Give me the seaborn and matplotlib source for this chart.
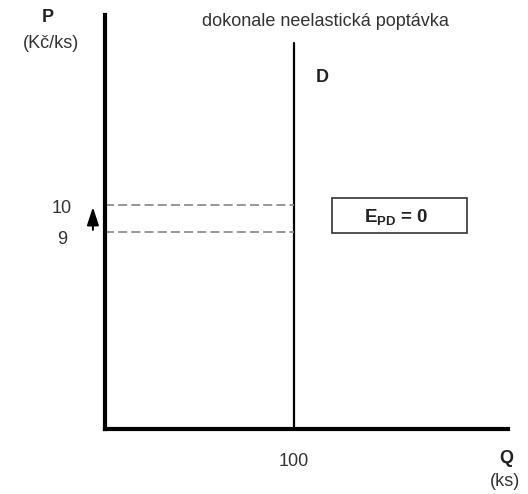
import matplotlib
matplotlib.use("Agg")
import matplotlib.pyplot as plt
import seaborn as sns
import pandas as pd
from matplotlib.patches import Rectangle
from matplotlib.transforms import ScaledTranslation

# ---- data ----
demand_quantity = 100          # perfectly inelastic demand at Q = 100
prices = [9, 10]               # price rises from 9 to 10
price_labels = ["9", "10"]
quantity_ticks = [100]
quantity_labels = ["100"]
demand_top_price = 16
title = "dokonale neelastická poptávka"
elasticity_label = r"$\mathbf{E_{PD}}$ = 0"

sns.set_theme(style="white")
plt.rcParams["font.family"] = ["Liberation Sans", "DejaVu Sans"]
plt.rcParams["mathtext.fontset"] = "custom"
plt.rcParams["mathtext.rm"] = "Liberation Sans"
plt.rcParams["mathtext.bf"] = "Liberation Sans:bold"

FS = 13
W, H = 528, 494
fig = plt.figure(figsize=(W / 100, H / 100), dpi=100)
ax = fig.add_axes([105 / W, 1 - 429 / H, 403 / W, (429 - 15) / H])

xlim = (0, 213.2)
ylim = (1.70, 17.04)
ax.set_xlim(*xlim)
ax.set_ylim(*ylim)

# demand curve (vertical)
demand_df = pd.DataFrame({"Q": [demand_quantity, demand_quantity],
                          "P": [ylim[0], demand_top_price]})
sns.lineplot(data=demand_df, x="Q", y="P", color="black", linewidth=1.6,
             ax=ax, sort=False, estimator=None)

# dashed price lines
ax.hlines(prices, xlim[0], demand_quantity, colors="#8f8f8f",
          linestyles=(0, (5, 2.3)), linewidth=1.3)

# arrow showing the price change
ax.annotate("", xy=(-0.030, prices[1]), xytext=(-0.030, prices[0]),
            xycoords=("axes fraction", "data"),
            textcoords=("axes fraction", "data"),
            arrowprops=dict(arrowstyle="-|>,head_length=0.55,head_width=0.18",
                            color="black", lw=1.4, mutation_scale=20,
                            shrinkA=-1.5, shrinkB=1.5),
            annotation_clip=False)

# elasticity box
bx0, bx1 = 120.1, 191.5
by0, by1 = 8.96, 10.26
ax.add_patch(Rectangle((bx0, by0), bx1 - bx0, by1 - by0, fill=False,
                       edgecolor="#333333", linewidth=1.2))
ax.text((bx0 + bx1) / 2 - 1.5, (by0 + by1) / 2 - 0.05, elasticity_label,
        ha="center", va="center", fontsize=FS + 0.5, fontweight="bold",
        color="#222222")

# D label
ax.text(114.8, 14.74, "D", ha="center", va="center", fontsize=FS,
        fontweight="bold", color="#222222")

# ticks
ax.set_yticks(prices)
ax.set_yticklabels(price_labels, ha="center")
ax.set_xticks(quantity_ticks)
ax.set_xticklabels(quantity_labels)
ax.tick_params(axis="y", length=0, pad=31, labelsize=FS, labelcolor="#333333")
ax.tick_params(axis="x", length=0, pad=17, labelsize=FS, labelcolor="#333333")
for lab, dy in zip(ax.get_yticklabels(), [6, 2]):
    lab.set_transform(lab.get_transform() +
                      ScaledTranslation(0, -dy / 100, fig.dpi_scale_trans))
ax.set_xlabel("")
ax.set_ylabel("")

for side in ["top", "right"]:
    ax.spines[side].set_visible(False)
for side in ["left", "bottom"]:
    ax.spines[side].set_linewidth(3.0)
    ax.spines[side].set_color("black")
    ax.spines[side].set_capstyle("projecting")
ax.grid(False)

# axis titles and chart title
fig.text(48 / W, 1 - 18 / H, "P", ha="center", va="center", fontsize=FS,
         fontweight="bold", color="#222222")
fig.text(51 / W, 1 - 44 / H, "(Kč/ks)", ha="center", va="center",
         fontsize=FS, color="#333333")
fig.text(506 / W, 1 - 458 / H, "Q", ha="center", va="center", fontsize=FS,
         fontweight="bold", color="#222222")
fig.text(505 / W, 1 - 481 / H, "(ks)", ha="center", va="center",
         fontsize=FS, color="#333333")
fig.text(325 / W, 1 - 22 / H, title, ha="center", va="center",
         fontsize=FS, color="#333333")

fig.savefig("out.png", dpi=100)
